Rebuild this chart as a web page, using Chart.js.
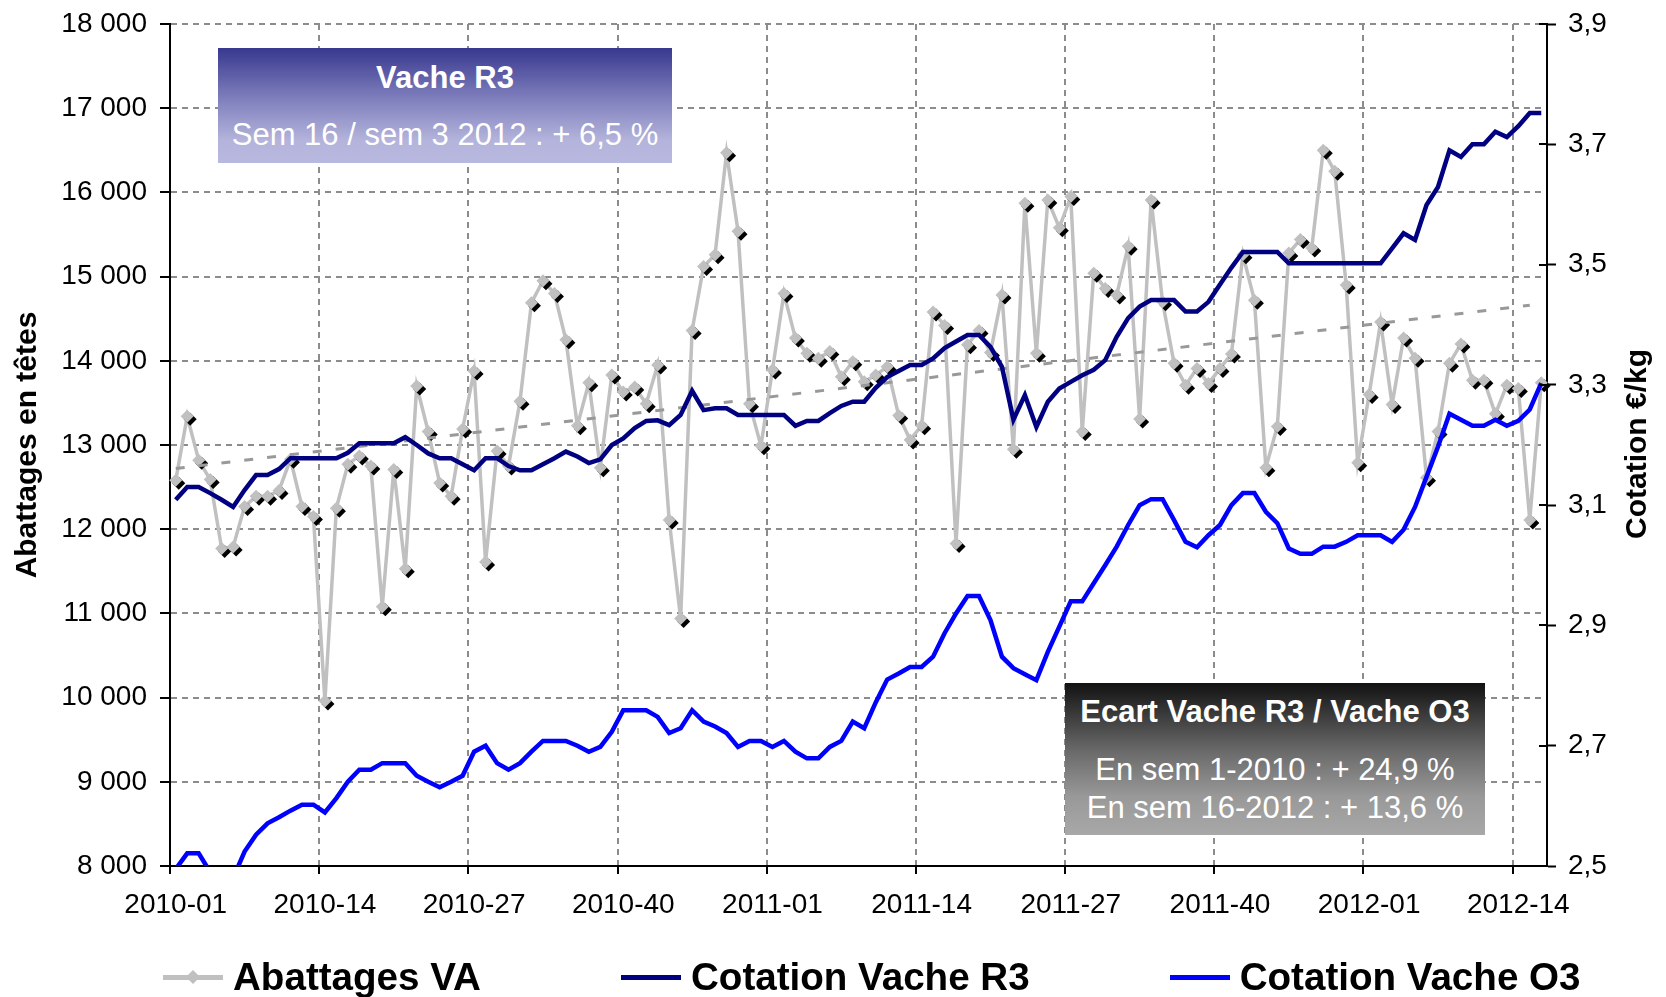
<!DOCTYPE html>
<html>
<head>
<meta charset="utf-8">
<script src="https://cdn.jsdelivr.net/npm/chart.js@4.4.0/dist/chart.umd.min.js"></script>
<style>
  body { margin: 0; background: #fff; font-family: 'Liberation Sans', Arial, sans-serif; }
  #wrap { position: relative; width: 1666px; height: 997px; overflow: hidden; }
  #myChart { position: absolute; left: 0; top: 0; }
  .box { position: absolute; color: #fff; text-align: center; white-space: nowrap; }
  .box div { position: absolute; left: 0; right: 0; }
  #boxR3 { left: 218px; top: 48px; width: 454px; height: 115px;
    background: linear-gradient(#38388f 0%, #8080be 45%, #b3b3db 80%, #b9b9e0 100%); }
  #boxEcart { left: 1065px; top: 683px; width: 420px; height: 152px;
    background: linear-gradient(#121212 0%, #6a6a6a 45%, #999 75%, #a8a8a8 100%); }
  .bold { font-weight: bold; font-size: 31px; line-height: 36px; }
  .reg { font-size: 31px; line-height: 38px; }
  #rtitle { position: absolute; left: 1636px; top: 444px; transform: translate(-50%, -50%) rotate(-90deg);
    font-weight: bold; font-size: 30px; white-space: nowrap; }
  #legend { position: absolute; left: 163px; top: 977px; transform: translateY(-50%);
    display: flex; gap: 140px; font-weight: bold; font-size: 38.6px; line-height: 40px; white-space: nowrap; }
  .item { display: flex; align-items: center; }
  .sample { position: relative; display: inline-block; width: 60px; height: 5px; margin-right: 10px; }
  .sample i { position: absolute; left: 25px; top: -3px; width: 10px; height: 10px; background: #c0c0c0; transform: rotate(45deg); }
</style>
</head>
<body>
<div id="wrap">
  <canvas id="myChart" width="1666" height="997"></canvas>
  <div id="boxR3" class="box">
    <div class="bold" style="top:12px">Vache R3</div>
    <div class="reg" style="top:68px">Sem 16 / sem 3 2012 : + 6,5 %</div>
  </div>
  <div id="boxEcart" class="box">
    <div class="bold" style="top:11px">Ecart Vache R3 / Vache O3</div>
    <div class="reg" style="top:68px">En sem 1-2010 : + 24,9 %</div>
    <div class="reg" style="top:106px">En sem 16-2012 : + 13,6 %</div>
  </div>
  <div id="rtitle">Cotation €/kg</div>
  <div id="legend">
    <div class="item"><span class="sample" style="background:#c0c0c0"><i></i></span>Abattages VA</div>
    <div class="item"><span class="sample" style="background:#000080"></span>Cotation Vache R3</div>
    <div class="item"><span class="sample" style="background:#0000ff"></span>Cotation Vache O3</div>
  </div>
</div>
<script>
const years = ['2010', '2011', '2012']
const weeksInYear = [52, 52, 16]
const weeks = []
years.forEach((y, k) => {
  for (let w = 1; w <= weeksInYear[k]; w++) weeks.push(y + '-' + String(w).padStart(2, '0'))
})
const shownTicks = ['2010-01', '2010-14', '2010-27', '2010-40', '2011-01', '2011-14', '2011-27', '2011-40', '2012-01', '2012-14']

// Abattages VA (tetes), axe gauche
const abattages = [
  12580, 13340, 12820, 12590, 11770, 11790, 12270, 12390, 12390, 12460,
  12830, 12270, 12150, 9960, 12250, 12770, 12870, 12750, 11080, 12710,
  11530, 13700, 13160, 12550, 12390, 13190, 13880, 11610, 12930, 12750,
  13520, 14690, 14950, 14800, 14250, 13230, 13740, 12730, 13830, 13630,
  13690, 13490, 13950, 12110, 10940, 14360, 15120, 15260, 16470, 15540,
  13490, 12990, 13890, 14800, 14270, 14090, 14030, 14110, 13810, 13990,
  13750, 13830, 13930, 13350, 13060, 13230, 14580, 14420, 11830, 14190,
  14360, 14100, 14780, 12950, 15870, 14090, 15910, 15580, 15950, 13160,
  15040, 14860, 14780, 15360, 13310, 15910, 14700, 13970, 13710, 13910,
  13730, 13910, 14080, 15260, 14720, 12730, 13220, 15280, 15440, 15340,
  16500, 16250, 14900, 12790, 13600, 14460, 13480, 14270, 14030, 12610,
  13160, 13970, 14200, 13770, 13770, 13370, 13710, 13670, 12110, 13740
]

// Cotation Vache R3 (EUR/kg), axe droit
const coteR3 = [
  3.109, 3.130, 3.130, 3.120, 3.109, 3.097, 3.125, 3.150, 3.150, 3.160,
  3.178, 3.178, 3.178, 3.178, 3.178, 3.187, 3.203, 3.203, 3.203, 3.203,
  3.213, 3.200, 3.186, 3.178, 3.178, 3.168, 3.158, 3.178, 3.178, 3.165,
  3.158, 3.158, 3.168, 3.178, 3.189, 3.181, 3.170, 3.176, 3.200, 3.211,
  3.228, 3.240, 3.241, 3.233, 3.250, 3.290, 3.258, 3.261, 3.261, 3.250,
  3.250, 3.250, 3.250, 3.250, 3.232, 3.240, 3.240, 3.253, 3.265, 3.272,
  3.272, 3.295, 3.313, 3.323, 3.333, 3.333, 3.344, 3.361, 3.372, 3.383,
  3.383, 3.363, 3.330, 3.242, 3.283, 3.230, 3.272, 3.294, 3.305, 3.316,
  3.325, 3.341, 3.380, 3.411, 3.430, 3.441, 3.441, 3.441, 3.422, 3.422,
  3.438, 3.467, 3.495, 3.521, 3.521, 3.521, 3.521, 3.502, 3.502, 3.502,
  3.502, 3.502, 3.502, 3.502, 3.502, 3.502, 3.527, 3.552, 3.541, 3.599,
  3.629, 3.690, 3.679, 3.700, 3.700, 3.721, 3.712, 3.730, 3.752, 3.752
]

// Cotation Vache O3 (EUR/kg), axe droit
const coteO3 = [
  2.495, 2.521, 2.521, 2.490, 2.470, 2.480, 2.524, 2.552, 2.571, 2.581,
  2.592, 2.602, 2.602, 2.589, 2.613, 2.640, 2.660, 2.660, 2.671, 2.671,
  2.671, 2.650, 2.640, 2.631, 2.640, 2.650, 2.690, 2.700, 2.671, 2.660,
  2.671, 2.690, 2.708, 2.708, 2.708, 2.700, 2.690, 2.698, 2.723, 2.759,
  2.759, 2.759, 2.748, 2.721, 2.729, 2.759, 2.740, 2.732, 2.721, 2.698,
  2.708, 2.708, 2.698, 2.708, 2.690, 2.679, 2.679, 2.698, 2.708, 2.740,
  2.729, 2.772, 2.810, 2.820, 2.831, 2.831, 2.848, 2.887, 2.920, 2.949,
  2.949, 2.909, 2.848, 2.829, 2.819, 2.809, 2.856, 2.898, 2.940, 2.940,
  2.970, 3.000, 3.031, 3.067, 3.100, 3.110, 3.110, 3.075, 3.039, 3.030,
  3.050, 3.067, 3.100, 3.120, 3.120, 3.089, 3.070, 3.028, 3.019, 3.019,
  3.031, 3.031, 3.039, 3.050, 3.050, 3.050, 3.039, 3.059, 3.097, 3.147,
  3.197, 3.252, 3.242, 3.232, 3.232, 3.242, 3.232, 3.240, 3.259, 3.303
]

// tendance des abattages (debut / fin)
const trendWeeks = ['2010-01', '2012-15']
const trendValues = [12720, 14660]

const gridGray = '#8c8c8c'
const isShown = i => shownTicks.includes(weeks[i])

// ombre noire sous les losanges
const markerShadow = {
  id: 'markerShadow',
  beforeDatasetDraw(chart, args) {
    if (args.index !== 1) return
    const c = chart.ctx
    c.save()
    c.shadowColor = '#000'
    c.shadowOffsetX = 3
    c.shadowOffsetY = 3
    c.shadowBlur = 0
  },
  afterDatasetDraw(chart, args) {
    if (args.index === 1) chart.ctx.restore()
  }
}

// traits de graduation de l'axe droit, qui croisent l'axe
const rightTicks = {
  id: 'rightTicks',
  afterDraw(chart) {
    const s = chart.scales.y1
    const c = chart.ctx
    c.save()
    c.strokeStyle = '#000'
    c.lineWidth = 2
    s.ticks.forEach(t => {
      const y = Math.round(s.getPixelForValue(t.value))
      c.beginPath()
      c.moveTo(s.left - 8, y)
      c.lineTo(s.left, y)
      c.stroke()
    })
    c.restore()
  }
}

const noVerticalPadding = s => {
  s.paddingTop = 0
  s.paddingBottom = 0
}

Chart.defaults.font.family = "'Liberation Sans', Arial, sans-serif"
Chart.defaults.color = '#000'

const ctx = document.getElementById('myChart')
const myChart = new Chart(ctx, {
  type: 'line',
  data: {
    labels: weeks,
    datasets: [
      {
        label: 'Abattages VA',
        data: abattages,
        yAxisID: 'y',
        borderColor: '#c0c0c0',
        borderWidth: 3.5,
        pointRadius: 0,
        order: 5
      },
      {
        label: 'Abattages VA (marqueurs)',
        data: abattages,
        yAxisID: 'y',
        showLine: false,
        pointStyle: 'rectRot',
        pointRadius: 6.5,
        pointBackgroundColor: '#c0c0c0',
        pointBorderWidth: 0,
        order: 4
      },
      {
        label: 'Tendance',
        data: trendWeeks.map((w, i) => ({ x: w, y: trendValues[i] })),
        yAxisID: 'y',
        borderColor: '#999',
        borderWidth: 3,
        borderDash: [9, 14],
        pointRadius: 0,
        order: 3
      },
      {
        label: 'Cotation Vache R3',
        data: coteR3,
        yAxisID: 'y1',
        borderColor: '#000080',
        borderWidth: 4.5,
        pointRadius: 0,
        order: 2
      },
      {
        label: 'Cotation Vache O3',
        data: coteO3,
        yAxisID: 'y1',
        borderColor: '#0000ff',
        borderWidth: 4.5,
        pointRadius: 0,
        order: 1
      }
    ]
  },
  options: {
    responsive: false,
    animation: false,
    layout: { padding: { top: 24, left: 0, right: 0, bottom: 0 } },
    plugins: {
      legend: { display: false },
      tooltip: { enabled: false }
    },
    scales: {
      x: {
        offset: true,
        afterFit: s => { s.height = 131 },
        border: { color: '#000', width: 2, dash: [6, 5] },
        grid: {
          offset: true,
          lineWidth: 2,
          color: c => isShown(c.index) ? gridGray : 'rgba(0,0,0,0)',
          tickColor: c => isShown(c.index) ? '#000' : 'rgba(0,0,0,0)',
          tickBorderDash: [],
          tickLength: 8,
          tickWidth: 2
        },
        ticks: {
          autoSkip: false,
          maxRotation: 0,
          padding: 14,
          font: { size: 28 },
          callback: (v, i) => isShown(i) ? weeks[i] : ''
        }
      },
      y: {
        position: 'left',
        min: 8000,
        max: 18000,
        afterFit: s => { s.width = 170; noVerticalPadding(s) },
        border: { color: '#000', width: 2, dash: [6, 5] },
        grid: {
          lineWidth: 2,
          color: gridGray,
          tickColor: '#000',
          tickBorderDash: [],
          tickLength: 10,
          tickWidth: 2
        },
        ticks: {
          stepSize: 1000,
          padding: 13,
          font: { size: 28 },
          callback: v => String(v).replace(/\B(?=(\d{3})+(?!\d))/g, ' ')
        },
        title: {
          display: true,
          text: 'Abattages en têtes',
          font: { size: 30, weight: 'bold' },
          padding: { top: 10, bottom: 0 }
        }
      },
      y1: {
        position: 'right',
        min: 2.5,
        max: 3.9,
        afterFit: s => { s.width = 119; noVerticalPadding(s) },
        border: { color: '#000', width: 2 },
        grid: {
          drawOnChartArea: false,
          tickColor: '#000',
          tickLength: 9,
          tickWidth: 2
        },
        ticks: {
          stepSize: 0.2,
          padding: 12,
          font: { size: 28 },
          callback: v => v.toFixed(1).replace('.', ',')
        }
      }
    }
  },
  plugins: [markerShadow, rightTicks]
})
</script>
</body>
</html>
